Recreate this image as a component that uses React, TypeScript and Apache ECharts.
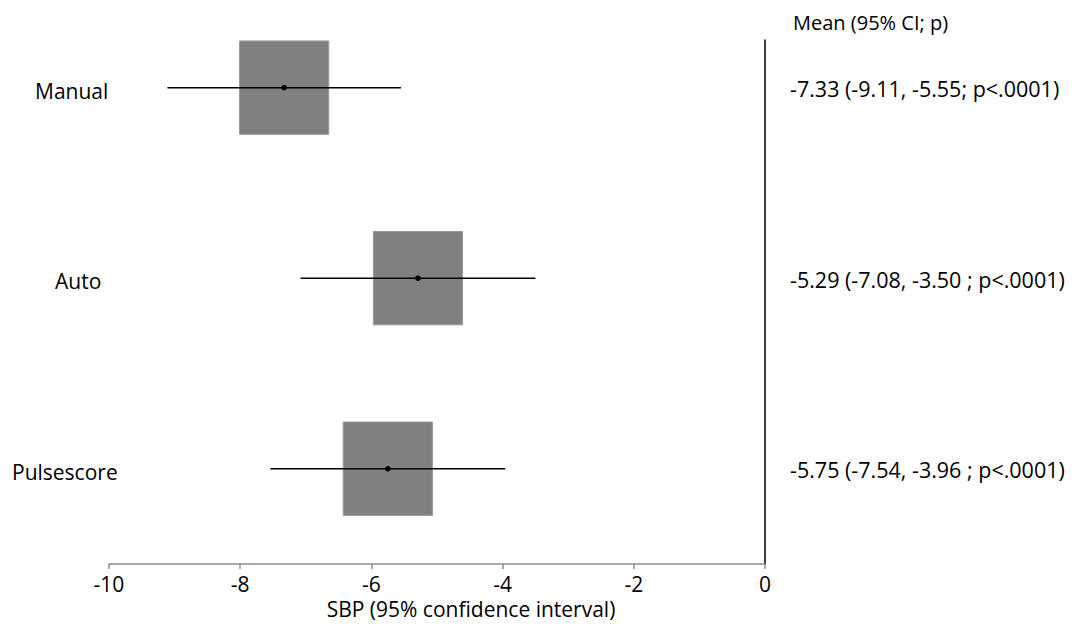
import React, { useEffect, useRef } from "react";
import * as echarts from "echarts";

const categories = ["Manual", "Auto", "Pulsescore"];
const means = [-7.33, -5.29, -5.75];
const lowers = [-9.11, -7.08, -7.54];
const uppers = [-5.55, -3.5, -3.96];
const rowPos = [2.5, 1.5, 0.5];
const summaryLabels = [
  "-7.33 (-9.11, -5.55; p<.0001)",
  "-5.29 (-7.08, -3.50 ; p<.0001)",
  "-5.75 (-7.54, -3.96 ; p<.0001)",
];
const headerLabel = "Mean (95% CI; p)";
const xTicks = [-10, -8, -6, -4, -2, 0];

// layout constants
const BOX_HALF_W = 0.68; // data units on x
const BOX_HALF_H = 0.245; // data units on y
const catLabelLeft = [35, 55, 12];
const FONT = "Open Sans, Lato, sans-serif";

export default function App() {
  const ref = useRef<HTMLDivElement>(null);
  useEffect(() => {
    if (!ref.current) return;
    const chart = echarts.init(ref.current, undefined, { renderer: "svg" });
    const data = categories.map((c, i) => [means[i], rowPos[i], lowers[i], uppers[i], i]);
    chart.setOption({
      animation: false,
      backgroundColor: "#ffffff",
      grid: { left: 109, right: 315, top: 40, bottom: 63 },
      xAxis: {
        type: "value",
        min: -10,
        max: 0,
        interval: 2,
        name: "SBP (95% confidence interval)",
        nameLocation: "middle",
        nameGap: 34,
        nameTextStyle: { fontFamily: FONT, fontSize: 21, color: "#000", padding: [0, 0, 0, 68] },
        axisLine: { show: true, lineStyle: { color: "#8c8c8c", width: 1.5 } },
        axisTick: { show: true, length: 5, lineStyle: { color: "#8c8c8c", width: 1.5 } },
        axisLabel: {
          fontFamily: FONT,
          fontSize: 21,
          color: "#000",
          margin: 9,
          formatter: (v: number) => (xTicks.includes(v) ? String(v) : ""),
        },
        splitLine: { show: false },
      },
      yAxis: {
        type: "value",
        min: 0,
        max: 2.75,
        position: "right",
        axisLine: { show: true, onZero: false, lineStyle: { color: "#000", width: 1.5 } },
        axisTick: { show: false },
        axisLabel: { show: false },
        splitLine: { show: false },
      },
      series: [
        {
          type: "custom",
          data,
          clip: false,
          renderItem: (params: any, api: any) => {
            const m = api.value(0);
            const y = api.value(1);
            const lo = api.value(2);
            const hi = api.value(3);
            const idx = api.value(4);
            const tl = api.coord([m - BOX_HALF_W, y + BOX_HALF_H]);
            const br = api.coord([m + BOX_HALF_W, y - BOX_HALF_H]);
            const c = api.coord([m, y]);
            const l = api.coord([lo, y]);
            const h = api.coord([hi, y]);
            const right = api.coord([0, y]);
            return {
              type: "group",
              children: [
                {
                  type: "rect",
                  shape: { x: tl[0], y: tl[1], width: br[0] - tl[0], height: br[1] - tl[1] },
                  style: { fill: "#808080", stroke: "#9a9a9a", lineWidth: 1 },
                },
                {
                  type: "line",
                  shape: { x1: l[0], y1: l[1], x2: h[0], y2: h[1] },
                  style: { stroke: "#000", lineWidth: 1.5 },
                },
                {
                  type: "circle",
                  shape: { cx: c[0], cy: c[1], r: 2.8 },
                  style: { fill: "#000" },
                },
                {
                  type: "text",
                  x: catLabelLeft[idx],
                  y: c[1] + 3,
                  style: {
                    text: categories[idx],
                    fontFamily: FONT,
                    fontSize: 21,
                    fill: "#000",
                    align: "left",
                    verticalAlign: "middle",
                  },
                },
                {
                  type: "text",
                  x: right[0] + 25,
                  y: c[1] + 1,
                  style: {
                    text: summaryLabels[idx],
                    fontFamily: FONT,
                    fontSize: 21.5,
                    fill: "#000",
                    align: "left",
                    verticalAlign: "middle",
                  },
                },
              ],
            };
          },
        },
        {
          type: "custom",
          data: [[0, 2.75]],
          clip: false,
          renderItem: (params: any, api: any) => {
            const p = api.coord([api.value(0), api.value(1)]);
            return {
              type: "text",
              x: p[0] + 28,
              y: p[1] - 18,
              style: {
                text: headerLabel,
                fontFamily: FONT,
                fontSize: 20,
                fill: "#000",
                align: "left",
                verticalAlign: "middle",
              },
            };
          },
        },
      ],
    });
    return () => chart.dispose();
  }, []);
  return <div ref={ref} style={{ width: 1080, height: 627, position: "absolute", left: 0, top: 0 }} />;
}
